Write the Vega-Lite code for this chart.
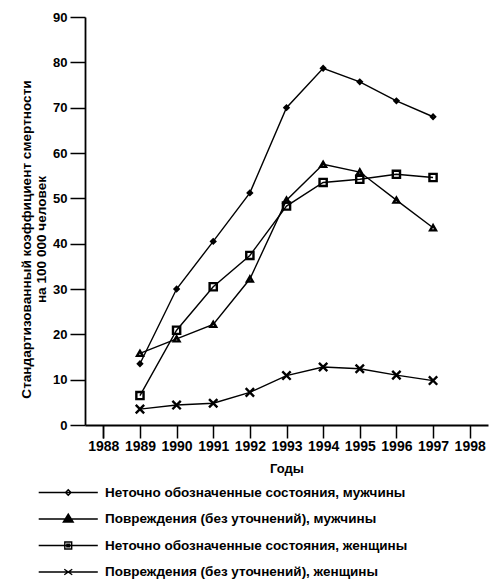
{
  "$schema": "https://vega.github.io/schema/vega-lite/v6.json",
  "width": 403,
  "height": 408,
  "autosize": {"type": "none"},
  "padding": {"left": 85, "top": 17, "right": 2, "bottom": 157},
  "config": {
    "view": {"stroke": null},
    "font": "Liberation Sans",
    "axis": {"domainColor": "black", "tickColor": "black", "labelColor": "black", "titleColor": "black", "domainWidth": 1.8, "tickWidth": 1.5, "grid": false, "labelFontWeight": "bold"}
  },
  "data": {"values": [
    {"year": 1989, "series": "Неточно обозначенные состояния, мужчины", "value": 13.5},
    {"year": 1990, "series": "Неточно обозначенные состояния, мужчины", "value": 30},
    {"year": 1991, "series": "Неточно обозначенные состояния, мужчины", "value": 40.5},
    {"year": 1992, "series": "Неточно обозначенные состояния, мужчины", "value": 51.2},
    {"year": 1993, "series": "Неточно обозначенные состояния, мужчины", "value": 70},
    {"year": 1994, "series": "Неточно обозначенные состояния, мужчины", "value": 78.7},
    {"year": 1995, "series": "Неточно обозначенные состояния, мужчины", "value": 75.7},
    {"year": 1996, "series": "Неточно обозначенные состояния, мужчины", "value": 71.5},
    {"year": 1997, "series": "Неточно обозначенные состояния, мужчины", "value": 68},
    {"year": 1989, "series": "Повреждения (без уточнений), мужчины", "value": 15.8},
    {"year": 1990, "series": "Повреждения (без уточнений), мужчины", "value": 19},
    {"year": 1991, "series": "Повреждения (без уточнений), мужчины", "value": 22.2},
    {"year": 1992, "series": "Повреждения (без уточнений), мужчины", "value": 32.2},
    {"year": 1993, "series": "Повреждения (без уточнений), мужчины", "value": 49.6},
    {"year": 1994, "series": "Повреждения (без уточнений), мужчины", "value": 57.5},
    {"year": 1995, "series": "Повреждения (без уточнений), мужчины", "value": 55.8},
    {"year": 1996, "series": "Повреждения (без уточнений), мужчины", "value": 49.6},
    {"year": 1997, "series": "Повреждения (без уточнений), мужчины", "value": 43.5},
    {"year": 1989, "series": "Неточно обозначенные состояния, женщины", "value": 6.5},
    {"year": 1990, "series": "Неточно обозначенные состояния, женщины", "value": 20.9},
    {"year": 1991, "series": "Неточно обозначенные состояния, женщины", "value": 30.5},
    {"year": 1992, "series": "Неточно обозначенные состояния, женщины", "value": 37.4},
    {"year": 1993, "series": "Неточно обозначенные состояния, женщины", "value": 48.3},
    {"year": 1994, "series": "Неточно обозначенные состояния, женщины", "value": 53.5},
    {"year": 1995, "series": "Неточно обозначенные состояния, женщины", "value": 54.2},
    {"year": 1996, "series": "Неточно обозначенные состояния, женщины", "value": 55.3},
    {"year": 1997, "series": "Неточно обозначенные состояния, женщины", "value": 54.6},
    {"year": 1989, "series": "Повреждения (без уточнений), женщины", "value": 3.5},
    {"year": 1990, "series": "Повреждения (без уточнений), женщины", "value": 4.4},
    {"year": 1991, "series": "Повреждения (без уточнений), женщины", "value": 4.8},
    {"year": 1992, "series": "Повреждения (без уточнений), женщины", "value": 7.2},
    {"year": 1993, "series": "Повреждения (без уточнений), женщины", "value": 10.9},
    {"year": 1994, "series": "Повреждения (без уточнений), женщины", "value": 12.8},
    {"year": 1995, "series": "Повреждения (без уточнений), женщины", "value": 12.4},
    {"year": 1996, "series": "Повреждения (без уточнений), женщины", "value": 11},
    {"year": 1997, "series": "Повреждения (без уточнений), женщины", "value": 9.8}
  ]},
  "encoding": {
    "x": {
      "field": "year", "type": "ordinal",
      "scale": {"domain": [1988, 1989, 1990, 1991, 1992, 1993, 1994, 1995, 1996, 1997, 1998], "paddingInner": 0, "paddingOuter": 0},
      "axis": {"title": "Годы", "bandPosition": 1, "tickExtra": true, "labelAngle": 0, "tickSize": 13, "labelPadding": 1, "labelFontSize": 14, "titleFontSize": 13, "titleFontWeight": "bold", "titlePadding": 9}
    },
    "y": {
      "field": "value", "type": "quantitative",
      "scale": {"domain": [0, 90], "nice": false},
      "axis": {"title": ["Стандартизованный коэффициент смертности", "на 100 000 человек"], "values": [0, 10, 20, 30, 40, 50, 60, 70, 80, 90], "tickSize": 15, "labelPadding": 3, "labelFontSize": 13, "titleFontSize": 13.6, "titleFontWeight": "bold", "titleX": -52, "titleY": 222, "titleBaseline": "bottom", "titleLineHeight": 15}
    }
  },
  "layer": [
    {
      "mark": {"type": "line", "color": "black", "strokeWidth": 1.4},
      "encoding": {"detail": {"field": "series", "type": "nominal"}}
    },
    {
      "mark": {"type": "point", "filled": false, "color": "black", "strokeWidth": 2.4, "opacity": 1},
      "encoding": {
        "shape": {"field": "series", "type": "nominal", "legend": null,
          "scale": {"domain": ["Неточно обозначенные состояния, мужчины", "Повреждения (без уточнений), мужчины", "Неточно обозначенные состояния, женщины", "Повреждения (без уточнений), женщины"],
                    "range": ["diamond", "triangle-up", "square", "M-1,-1L1,1M-1,1L1,-1"]}},
        "size": {"field": "series", "type": "ordinal", "legend": null,
          "scale": {"domain": ["Неточно обозначенные состояния, мужчины", "Повреждения (без уточнений), мужчины", "Неточно обозначенные состояния, женщины", "Повреждения (без уточнений), женщины"],
                    "range": [16, 70, 30, 35]}}
      }
    },
    {
      "transform": [{"filter": "datum.value < 0"}],
      "mark": {"type": "point", "filled": false, "color": "black", "strokeWidth": 1.4, "opacity": 1},
      "encoding": {
        "shape": {"field": "series", "type": "nominal",
          "scale": {"domain": ["Неточно обозначенные состояния, мужчины", "Повреждения (без уточнений), мужчины", "Неточно обозначенные состояния, женщины", "Повреждения (без уточнений), женщины"],
                    "range": ["M-2.15,0H2.15M-0.2,0L0,-0.2L0.2,0L0,0.2ZM-0.08,0H0.08", "M-2.15,0H2.15M-0.36,0.22L0,-0.36L0.36,0.22ZM-0.18,0.12L0,-0.17L0.18,0.12ZM-0.05,0.08L0,0L0.05,0.08Z", "M-2.15,0H2.15M-0.25,-0.25H0.25V0.25H-0.25ZM-0.1,-0.1H0.1V0.1H-0.1Z", "M-2.15,0H2.15M-0.29,-0.2L0.29,0.2M-0.29,0.2L0.29,-0.2"]},
          "legend": {"title": null, "orient": "none", "legendX": -31.25, "legendY": 461, "direction": "vertical", "columns": 1, "labelFontSize": 13.5, "labelFontWeight": "bold", "labelColor": "black", "labelOffset": 22.25, "labelLimit": 0, "symbolSize": 756, "symbolStrokeWidth": 1.4, "symbolStrokeColor": "black", "symbolOpacity": 1, "rowPadding": 5.5, "padding": 0}
        }
      }
    }
  ],
  "resolve": {"scale": {"shape": "independent", "size": "independent"}}
}
